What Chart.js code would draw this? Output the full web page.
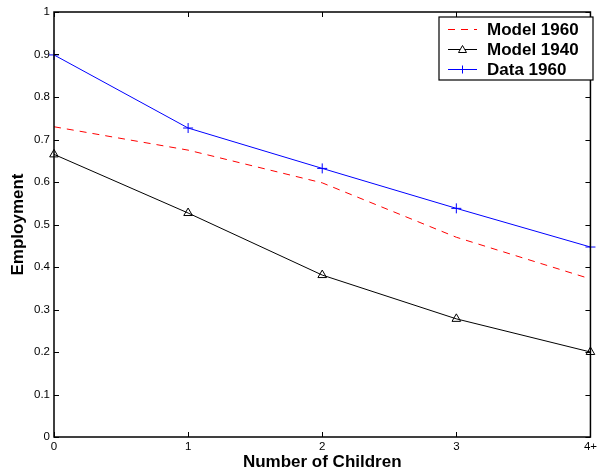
<!DOCTYPE html>
<html>
<head>
<meta charset="utf-8">
<script src="https://cdn.jsdelivr.net/npm/chart.js@4.4.1/dist/chart.umd.min.js"></script>
<style>
  html, body { margin: 0; padding: 0; background: #fff; }
  #wrap { width: 600px; height: 473px; }
</style>
</head>
<body>
<div id="wrap"><canvas id="chart" width="600" height="473"></canvas></div>
<script>
const children = ['0', '1', '2', '3', '4+']
const model1960 = [0.73, 0.675, 0.598, 0.47, 0.372]
const model1940 = [0.665, 0.527, 0.381, 0.278, 0.2]
const data1960 = [0.899, 0.727, 0.632, 0.538, 0.447]
const yTicks = [0, 0.1, 0.2, 0.3, 0.4, 0.5, 0.6, 0.7, 0.8, 0.9, 1]

const FONT = 'Liberation Sans, Arial, Helvetica, sans-serif'

// MATLAB style box with inward ticks
const boxPlugin = {
  id: 'box',
  afterDraw(chart) {
    const { ctx, chartArea: a, scales } = chart
    ctx.save()
    ctx.strokeStyle = '#000'
    ctx.lineWidth = 1
    ctx.beginPath()
    const tl = 5
    children.forEach((c, i) => {
      const x = Math.round(scales.x.getPixelForValue(i)) + 0.5
      ctx.moveTo(x, a.bottom); ctx.lineTo(x, a.bottom - tl)
      ctx.moveTo(x, a.top); ctx.lineTo(x, a.top + tl)
    })
    yTicks.forEach(v => {
      const y = Math.round(scales.y.getPixelForValue(v)) + 0.5
      ctx.moveTo(a.left, y); ctx.lineTo(a.left + tl, y)
      ctx.moveTo(a.right, y); ctx.lineTo(a.right - tl, y)
    })
    ctx.stroke()
    ctx.lineWidth = 1.5
    ctx.strokeRect(a.left, a.top, a.right - a.left, a.bottom - a.top)
    ctx.restore()
  }
}

// legend box in the upper right corner
const legendPlugin = {
  id: 'boxLegend',
  afterDraw(chart) {
    const { ctx } = chart
    const x0 = 439, y0 = 17, w = 154, h = 63
    ctx.save()
    ctx.fillStyle = '#fff'
    ctx.fillRect(x0, y0, w, h)
    ctx.strokeStyle = '#000'
    ctx.lineWidth = 1.2
    ctx.strokeRect(x0, y0, w, h)
    ctx.font = 'bold 17px ' + FONT
    ctx.textBaseline = 'middle'
    chart.data.datasets.forEach((ds, i) => {
      const y = y0 + 12.5 + i * 20
      const mx = x0 + 23.5
      ctx.strokeStyle = ds.borderColor
      ctx.lineWidth = 1
      ctx.setLineDash(ds.borderDash || [])
      ctx.beginPath()
      ctx.moveTo(x0 + 9, y); ctx.lineTo(x0 + 38, y)
      ctx.stroke()
      ctx.setLineDash([])
      if (ds.pointStyle === 'triangle') {
        ctx.beginPath()
        ctx.moveTo(mx, y - 4); ctx.lineTo(mx + 4, y + 3); ctx.lineTo(mx - 4, y + 3); ctx.closePath()
        ctx.fillStyle = '#fff'; ctx.fill(); ctx.stroke()
      } else if (ds.pointStyle === 'cross') {
        ctx.beginPath()
        ctx.moveTo(mx, y - 4); ctx.lineTo(mx, y + 4)
        ctx.stroke()
      }
      ctx.fillStyle = '#000'
      ctx.fillText(ds.label, x0 + 48, y + 1)
    })
    ctx.restore()
  }
}

new Chart(document.getElementById('chart').getContext('2d'), {
  type: 'line',
  data: {
    labels: children,
    datasets: [{
      label: 'Model 1960',
      data: model1960,
      borderColor: '#ff0000',
      borderWidth: 1,
      borderDash: [7, 6],
      pointRadius: 0,
      tension: 0
    }, {
      label: 'Model 1940',
      data: model1940,
      borderColor: '#000000',
      borderWidth: 1,
      pointStyle: 'triangle',
      pointRadius: 5,
      pointBackgroundColor: 'rgba(255,255,255,0)',
      pointBorderColor: '#000',
      pointBorderWidth: 1,
      tension: 0
    }, {
      label: 'Data 1960',
      data: data1960,
      borderColor: '#0000ff',
      borderWidth: 1,
      pointStyle: 'cross',
      pointRadius: 5,
      pointBorderColor: '#0000ff',
      pointBorderWidth: 1,
      tension: 0
    }]
  },
  options: {
    responsive: false,
    animation: false,
    clip: false,
    layout: { padding: { top: 12, right: 4, left: 0, bottom: 0 } },
    plugins: {
      legend: { display: false },
      tooltip: { enabled: false }
    },
    scales: {
      x: {
        type: 'category',
        offset: false,
        grid: { display: false, drawTicks: false },
        border: { display: false },
        ticks: { color: '#000', font: { family: FONT, size: 11.5 }, padding: 3, maxRotation: 0, autoSkip: false },
        title: { display: true, text: 'Number of Children', color: '#000', font: { family: FONT, size: 17, weight: 'bold' }, padding: { top: 0, bottom: 0 } },
        afterFit(scale) { scale.height = 36 }
      },
      y: {
        min: 0,
        max: 1,
        afterBuildTicks(scale) { scale.ticks = yTicks.map(v => ({ value: v })) },
        grid: { display: false, drawTicks: false },
        border: { display: false },
        ticks: { color: '#000', font: { family: FONT, size: 11.5 }, padding: 4, callback: v => String(Math.round(v * 10) / 10) },
        title: { display: true, text: 'Employment', color: '#000', font: { family: FONT, size: 17, weight: 'bold' }, padding: { top: 8, bottom: 0 } },
        afterFit(scale) { scale.width = 54 }
      }
    }
  },
  plugins: [boxPlugin, legendPlugin]
})
</script>
</body>
</html>
